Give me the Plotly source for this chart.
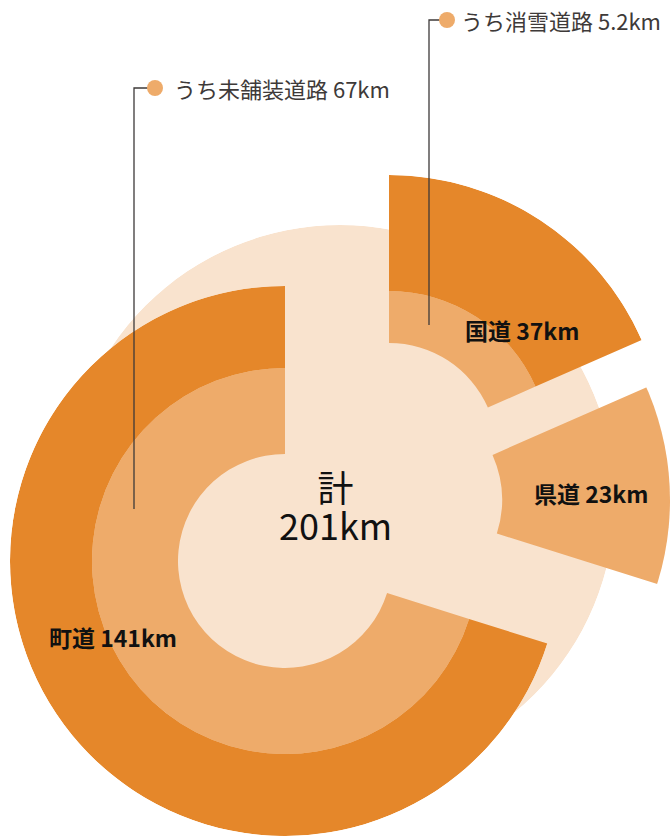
import plotly.graph_objects as go

W, H = 670, 836

# ---- data -------------------------------------------------------------
roads = ["国道", "県道", "町道"]
lengths = [37, 23, 141]                  # km
sub_names = ["うち消雪道路", None, "うち未舗装道路"]
sub_lengths = [5.2, None, 67]            # km
total = sum(lengths)

# ---- style ------------------------------------------------------------
DARK = "#E5872A"
LIGHT = "#EEAB6A"
PEACH = "#F9E3CE"
INK = "#111111"
GREY = "#3E3A39"
FONT = "Noto Sans CJK JP, Noto Sans, sans-serif"

# slice centres (px) after "exploding", and ring radii (inner, split, outer)
centres = {"国道": (389, 451), "県道": (390, 500), "町道": (285, 561)}
rings = {"国道": (108, 160, 276), "県道": (112, None, 286), "町道": (107, 193, 275)}
bg_centre, bg_radius = (340, 500), 275

label_pos = {"国道": (522, 330), "県道": (591, 493), "町道": (113, 637)}
# leader: x, bottom y, top y, dot x, text x
leaders = {"国道": (429, 325, 20, 447, 459), "町道": (134, 509, 88, 155, 172)}


def polar_box(cx, cy, r):
    half = min(r, cx, W - cx, cy, H - cy)
    x = [max(0, (cx - half) / W), min(1, (cx + half) / W)]
    y = [max(0, (H - cy - half) / H), min(1, (H - cy + half) / H)]
    return half, dict(x=x, y=y)


def polar_layout(cx, cy, r):
    half, dom = polar_box(cx, cy, r)
    return dict(
        domain=dom, bgcolor="rgba(0,0,0,0)", barmode="overlay",
        radialaxis=dict(range=[0, half], visible=False),
        angularaxis=dict(rotation=90, direction="clockwise", visible=False),
    )


fig = go.Figure()
layout = {}

# background disc
layout["polar"] = polar_layout(*bg_centre, bg_radius)
fig.add_trace(go.Barpolar(
    r=[bg_radius], base=[0], theta=[180], width=[360],
    marker=dict(color=PEACH, line=dict(width=0)),
    subplot="polar", hoverinfo="skip", showlegend=False,
))

start = 0.0
for i, name in enumerate(roads):
    span = lengths[i] / total * 360
    theta = start + span / 2
    start += span
    sp = "polar%d" % (i + 2)
    cx, cy = centres[name]
    r_in, r_mid, r_out = rings[name]
    layout[sp] = polar_layout(cx, cy, r_out)
    if r_mid is None:
        parts = [(r_in, r_out, LIGHT)]
    else:
        parts = [(r_in, r_mid, LIGHT), (r_mid, r_out, DARK)]
    for b0, b1, col in parts:
        fig.add_trace(go.Barpolar(
            r=[b1 - b0], base=[b0], theta=[theta], width=[span],
            marker=dict(color=col, line=dict(width=0)),
            subplot=sp, hoverinfo="skip", showlegend=False,
        ))


def px(x, y):
    return x / W, 1 - y / H


annotations = []
shapes = []

# centre total (one text, tight line spacing via small base size)
ax, ay = px(335, 505)
annotations.append(dict(
    text=f"<span style='font-size:36px'>計</span><br>"
         f"<span style='font-size:36px'>{total}km</span>",
    x=ax, y=ay, xref="paper", yref="paper", xanchor="center", yanchor="middle",
    showarrow=False, font=dict(family=FONT, size=29, color=INK),
))

for i, name in enumerate(roads):
    ax, ay = px(*label_pos[name])
    annotations.append(dict(
        text=f"{name} {lengths[i]}km", x=ax, y=ay, xref="paper", yref="paper",
        xanchor="center", yanchor="middle", showarrow=False,
        font=dict(family=FONT, size=23, color=INK, weight="bold"),
    ))
    if sub_names[i] is None:
        continue
    lx, ly0, ly1, dx, tx = leaders[name]
    x0, y0 = px(lx, ly0)
    _, y1 = px(lx, ly1)
    xs, _ = px(dx - 6, ly1)
    shapes.append(dict(type="path", xref="paper", yref="paper", layer="above",
                       path=f"M{x0},{y0} L{x0},{y1} L{xs},{y1}",
                       line=dict(color=GREY, width=1.3)))
    c0x, c0y = px(dx - 8, ly1 + 8)
    c1x, c1y = px(dx + 8, ly1 - 8)
    shapes.append(dict(type="circle", xref="paper", yref="paper", layer="above",
                       x0=c0x, y0=c0y, x1=c1x, y1=c1y,
                       fillcolor=LIGHT, line=dict(width=0)))
    tx_, ty_ = px(tx, ly1)
    annotations.append(dict(
        text=f"{sub_names[i]} {sub_lengths[i]}km", x=tx_, y=ty_,
        xref="paper", yref="paper", xanchor="left", yanchor="middle",
        showarrow=False, font=dict(family=FONT, size=22, color=GREY),
    ))

fig.update_layout(
    width=W, height=H,
    margin=dict(l=0, r=0, t=0, b=0),
    paper_bgcolor="white", plot_bgcolor="white",
    annotations=annotations, shapes=shapes,
    **layout,
)

fig.write_html(
    "out.html",
    config={"displayModeBar": False},
    post_script="document.body.style.margin='0';document.body.style.overflow='hidden';",
)
